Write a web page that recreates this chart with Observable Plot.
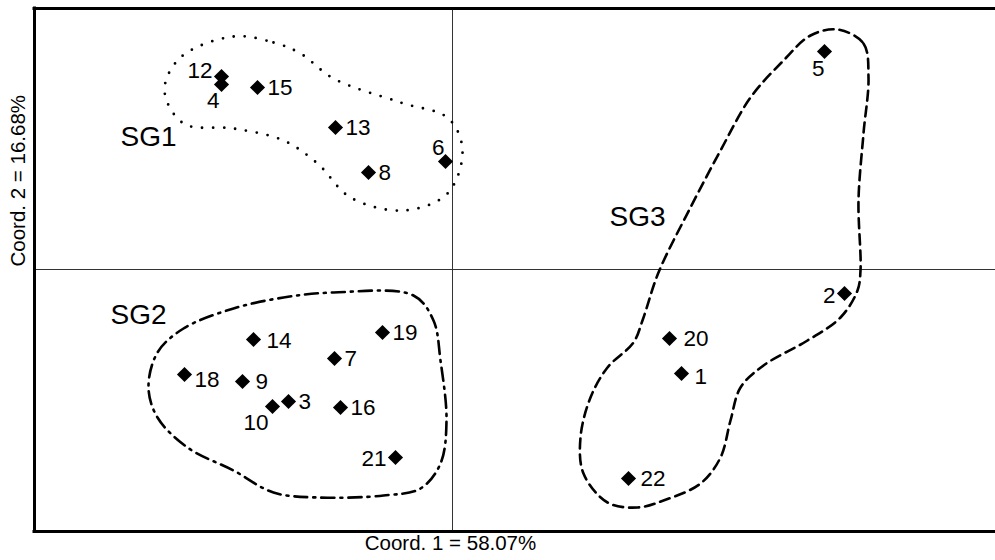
<!DOCTYPE html>
<html><head><meta charset="utf-8">
<script src="https://cdn.jsdelivr.net/npm/d3@7"></script>
<script src="https://cdn.jsdelivr.net/npm/@observablehq/plot@0.6"></script>
<style>body{margin:0;background:#fff} svg{display:block}</style>
</head><body><div id="chart"></div>
<script>
// ---- data ----
const sampleIds = ["1","2","3","4","5","6","7","8","9","10","12","13","14","15","16","18","19","20","21","22"];
const coord1 = [1.145, 1.96, -0.82, -1.155, 1.86, -0.035, -0.59, -0.42, -1.05, -0.9, -1.155, -0.585, -0.995, -0.975, -0.56, -1.34, -0.35, 1.085, -0.285, 0.88];
const coord2 = [-0.52, -0.12, -0.66, 0.925, 1.09, 0.54, -0.445, 0.485, -0.56, -0.685, 0.965, 0.71, -0.35, 0.91, -0.69, -0.525, -0.315, -0.345, -0.94, -1.045];

const groupNames = ["SG1", "SG2", "SG3"];
const groupLabelX = [-1.52, -1.57, 0.925];
const groupLabelY = [0.66, -0.23, 0.26];

const sg1Outline = [[-1.095,1.165],[-0.895,1.135],[-0.76,1.08],[-0.595,0.955],[-0.26,0.835],[-0.02,0.755],[0.05,0.595],[-0.025,0.38],[-0.245,0.295],[-0.51,0.36],[-0.675,0.53],[-0.845,0.645],[-1.095,0.705],[-1.345,0.73],[-1.44,0.895],[-1.36,1.06]];
const sg2Outline = [[-0.595,-0.115],[-0.195,-0.13],[-0.095,-0.255],[-0.06,-0.455],[-0.03,-0.755],[-0.06,-0.97],[-0.16,-1.095],[-0.345,-1.13],[-0.675,-1.14],[-0.895,-1.115],[-1.095,-1.005],[-1.325,-0.89],[-1.475,-0.74],[-1.52,-0.59],[-1.475,-0.415],[-1.345,-0.295],[-1.095,-0.195],[-0.845,-0.14]];
const sg3Outline = [[1.925,1.2],[2.055,1.13],[2.08,0.96],[2.055,0.68],[2.03,0.345],[2.04,-0.005],[2.025,-0.105],[1.94,-0.24],[1.775,-0.355],[1.555,-0.48],[1.44,-0.59],[1.39,-0.755],[1.34,-0.94],[1.24,-1.07],[1.055,-1.155],[0.925,-1.19],[0.775,-1.165],[0.655,-1.02],[0.64,-0.84],[0.69,-0.64],[0.775,-0.49],[0.905,-0.365],[0.95,-0.255],[1.03,-0.015],[1.19,0.31],[1.34,0.595],[1.49,0.86],[1.655,1.045],[1.79,1.17]];

const axisTitleX = "Coord. 1 = 58.07%";
const axisTitleY = "Coord. 2 = 16.68%";
const xDomain = [-2.09, 2.715];
const yDomain = [-1.31, 1.305];

// ---- derived tables ----
const points = sampleIds.map((id, i) => ({id, x: coord1[i], y: coord2[i]}));
const groups = groupNames.map((g, i) => ({g, x: groupLabelX[i], y: groupLabelY[i]}));
const outlineOf = (arr) => arr.map(([x, y]) => ({x, y}));

// label placement (style only)
const placement = {
  "12": {a: "end", dx: -9, dy: -6},
  "4": {a: "end", dx: -2, dy: 16},
  "6": {a: "end", dx: -1, dy: -14},
  "5": {a: "end", dx: 0, dy: 17},
  "2": {a: "end", dx: -9, dy: 2},
  "10": {a: "end", dx: -4, dy: 16},
  "21": {a: "end", dx: -9, dy: 1},
  "14": {a: "start", dx: 13, dy: 1},
  "9": {a: "start", dx: 13, dy: 0},
  "20": {a: "start", dx: 14, dy: 0},
  "1": {a: "start", dx: 13, dy: 3},
  "22": {a: "start", dx: 12, dy: 0},
  "18": {a: "start", dx: 10, dy: 5}
};
const def = {a: "start", dx: 10, dy: 0};

const font = "'Liberation Sans', Arial, Helvetica, sans-serif";

const labelMarks = points.map(p => {
  const pl = placement[p.id] || def;
  return Plot.text([p], {x: "x", y: "y", text: "id", textAnchor: pl.a, dx: pl.dx, dy: pl.dy, fontSize: 22.5, fill: "#000"});
});

const chart = Plot.plot({
  width: 995,
  height: 560,
  marginLeft: 34,
  marginRight: 0,
  marginTop: 8,
  marginBottom: 29,
  x: {domain: xDomain, axis: null},
  y: {domain: yDomain, axis: null},
  style: {fontFamily: font, background: "#fff"},
  marks: [
    Plot.ruleX([0], {stroke: "#333", strokeWidth: 1}),
    Plot.ruleY([0], {stroke: "#333", strokeWidth: 1}),
    Plot.line(outlineOf(sg1Outline), {x: "x", y: "y", curve: "catmull-rom-closed", stroke: "#000", strokeWidth: 2.8, strokeDasharray: "0,11", strokeLinecap: "round"}),
    Plot.line(outlineOf(sg2Outline), {x: "x", y: "y", curve: "catmull-rom-closed", stroke: "#000", strokeWidth: 2.6, strokeDasharray: "13,6,2,6"}),
    Plot.line(outlineOf(sg3Outline), {x: "x", y: "y", curve: "catmull-rom-closed", stroke: "#000", strokeWidth: 2.6, strokeDasharray: "10,6"}),
    Plot.dot(points, {x: "x", y: "y", symbol: "diamond2", r: 6.8, fill: "#000", stroke: "none"}),
    ...labelMarks,
    Plot.text(groups, {x: "x", y: "y", text: "g", fontSize: 28, fill: "#000"}),
    Plot.text({length: 1}, {x: [-0.01], text: [axisTitleX], frameAnchor: "bottom", dy: 18, fontSize: 20.5, fill: "#000"}),
    Plot.text({length: 1}, {y: [0.015], text: [axisTitleY], frameAnchor: "left", rotate: -90, dx: -16.5, fontSize: 20.5, fill: "#000"}),
    Plot.ruleX([xDomain[0]], {stroke: "#000", strokeWidth: 3, strokeLinecap: "square"}),
    Plot.ruleY(yDomain, {stroke: "#000", strokeWidth: 3, strokeLinecap: "square"})
  ]
});
document.getElementById("chart").appendChild(chart);
</script>
</body></html>
